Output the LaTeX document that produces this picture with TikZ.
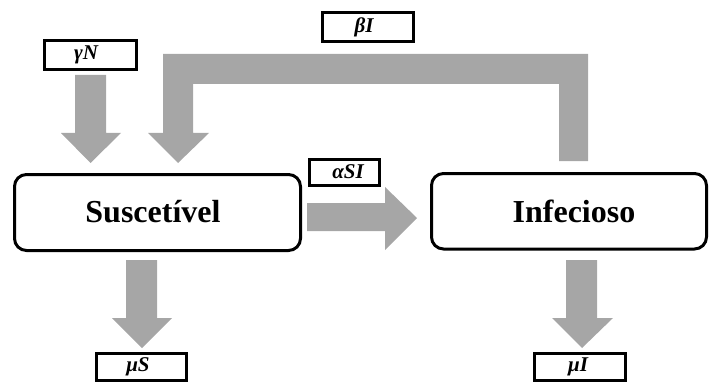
\documentclass[tikz,border=0pt]{standalone}
\usepackage{fontspec}
\setmainfont{Liberation Serif}
\definecolor{flowgray}{RGB}{166,166,166}
\begin{document}
\begin{tikzpicture}[x=1pt,y=-1pt,
  compbox/.style={draw=black,line width=3pt,rounded corners=12pt,fill=white},
  ratebox/.style={draw=black,line width=3pt,fill=white},
  comptext/.style={font=\fontsize{32}{32}\selectfont\bfseries},
  ratetext/.style={font=\fontsize{21}{21}\selectfont\bfseries\itshape},
  flow/.style={fill=flowgray,draw=none}]
\useasboundingbox (0,0) rectangle (709,385);
% compartments
\draw[compbox] (14.5,174.5) rectangle (300.5,250.5);
\node[comptext] (S) at (153,212) {Suscetível};
\draw[compbox] (431.5,173.5) rectangle (706.5,249);
\node[comptext] (I) at (574,211) {Infecioso};
% flows
\fill[flow] (75,75) -- (106,75) -- (106,133) -- (121,133) -- (90.5,163) -- (61,133) -- (75,133) -- cycle;
\fill[flow] (588,161) -- (588,54) -- (163,54) -- (163,133) -- (148,133) -- (178,163) -- (209,133) -- (193,133) -- (193,84) -- (559,84) -- (559,161) -- cycle;
\fill[flow] (307,203) -- (385,203) -- (385,187) -- (417,218) -- (385,250) -- (385,231) -- (307,231) -- cycle;
\fill[flow] (126,260) -- (157,260) -- (157,318) -- (172,318) -- (142,348) -- (112,318) -- (126,318) -- cycle;
\fill[flow] (566,260) -- (597,260) -- (597,318) -- (613,318) -- (582,348) -- (552,318) -- (566,318) -- cycle;
% rate labels
\draw[ratebox] (44.5,40.5) rectangle (136.5,69.5);
\node[ratetext] (gN) at (86,55) {γN};
\draw[ratebox] (322.5,12.5) rectangle (413.5,41.5);
\node[ratetext] (bI) at (364,27) {βI};
\draw[ratebox] (309.5,159.5) rectangle (379.5,185.5);
\node[ratetext] (aSI) at (348,172) {αSI};
\draw[ratebox] (96.5,353.5) rectangle (186.5,380.5);
\node[ratetext] (mS) at (138,367) {μS};
\draw[ratebox] (534.5,353.5) rectangle (625.5,380.5);
\node[ratetext] (mI) at (578,367) {μI};
\end{tikzpicture}
\end{document}
